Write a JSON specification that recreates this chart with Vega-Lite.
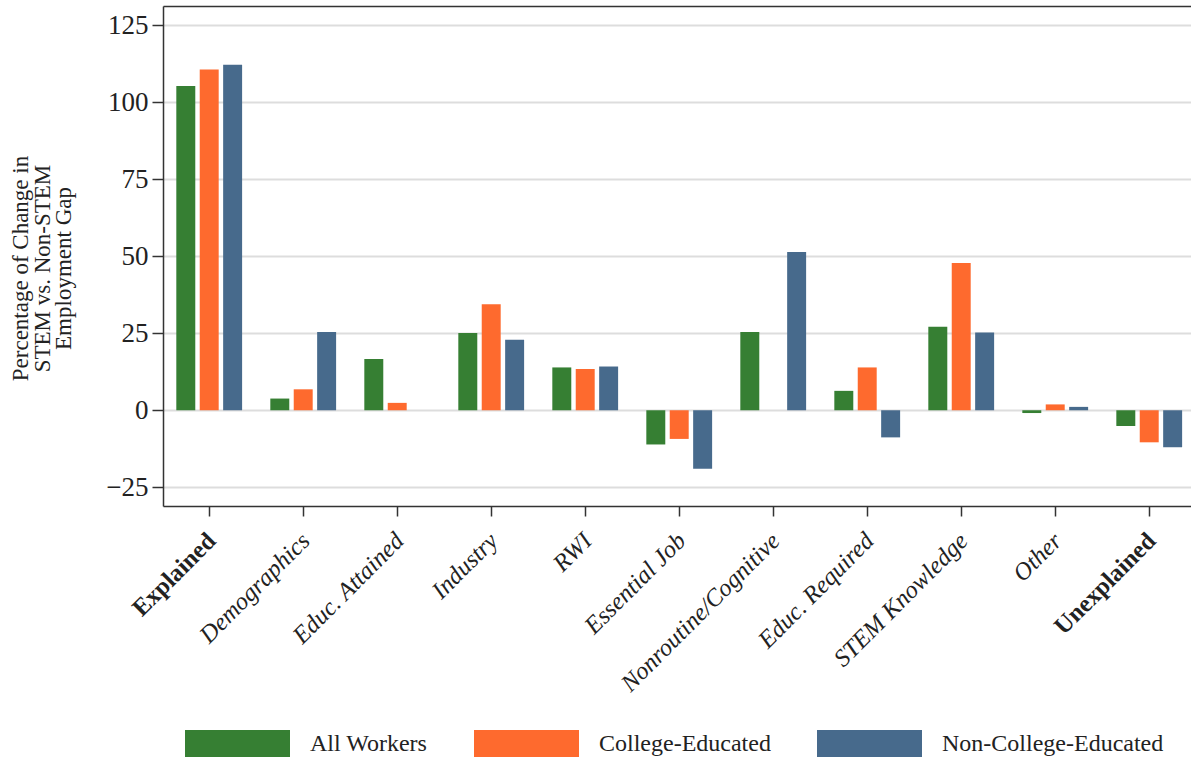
{
  "$schema": "https://vega.github.io/schema/vega-lite/v6.json",
  "width": 1028,
  "height": 500,
  "autosize": {"type": "none"},
  "padding": {"left": 163, "top": 6, "right": 0, "bottom": 256},
  "background": "white",
  "config": {"view": {"stroke": null}, "font": "Liberation Serif"},
  "data": {
    "values": [
      {"category": "Explained", "group": "All Workers", "value": 105.2},
      {"category": "Explained", "group": "College-Educated", "value": 110.6},
      {"category": "Explained", "group": "Non-College-Educated", "value": 112.1},
      {"category": "Demographics", "group": "All Workers", "value": 3.8},
      {"category": "Demographics", "group": "College-Educated", "value": 6.8},
      {"category": "Demographics", "group": "Non-College-Educated", "value": 25.4},
      {"category": "Educ. Attained", "group": "All Workers", "value": 16.6},
      {"category": "Educ. Attained", "group": "College-Educated", "value": 2.4},
      {"category": "Educ. Attained", "group": "Non-College-Educated", "value": 0},
      {"category": "Industry", "group": "All Workers", "value": 25.1},
      {"category": "Industry", "group": "College-Educated", "value": 34.4},
      {"category": "Industry", "group": "Non-College-Educated", "value": 22.9},
      {"category": "RWI", "group": "All Workers", "value": 13.9},
      {"category": "RWI", "group": "College-Educated", "value": 13.4},
      {"category": "RWI", "group": "Non-College-Educated", "value": 14.2},
      {"category": "Essential Job", "group": "All Workers", "value": -11.1},
      {"category": "Essential Job", "group": "College-Educated", "value": -9.3},
      {"category": "Essential Job", "group": "Non-College-Educated", "value": -19.0},
      {"category": "Nonroutine/Cognitive", "group": "All Workers", "value": 25.4},
      {"category": "Nonroutine/Cognitive", "group": "College-Educated", "value": 0},
      {"category": "Nonroutine/Cognitive", "group": "Non-College-Educated", "value": 51.4},
      {"category": "Educ. Required", "group": "All Workers", "value": 6.3},
      {"category": "Educ. Required", "group": "College-Educated", "value": 13.9},
      {"category": "Educ. Required", "group": "Non-College-Educated", "value": -8.8},
      {"category": "STEM Knowledge", "group": "All Workers", "value": 27.1},
      {"category": "STEM Knowledge", "group": "College-Educated", "value": 47.8},
      {"category": "STEM Knowledge", "group": "Non-College-Educated", "value": 25.2},
      {"category": "Other", "group": "All Workers", "value": -0.9},
      {"category": "Other", "group": "College-Educated", "value": 1.9},
      {"category": "Other", "group": "Non-College-Educated", "value": 1.1},
      {"category": "Unexplained", "group": "All Workers", "value": -5.1},
      {"category": "Unexplained", "group": "College-Educated", "value": -10.4},
      {"category": "Unexplained", "group": "Non-College-Educated", "value": -12.0}
    ]
  },
  "layer": [
    {
      "mark": {"type": "bar"},
      "encoding": {
        "x": {
          "field": "category",
          "type": "nominal",
          "sort": ["Explained", "Demographics", "Educ. Attained", "Industry", "RWI", "Essential Job", "Nonroutine/Cognitive", "Educ. Required", "STEM Knowledge", "Other", "Unexplained"],
          "scale": {"paddingInner": 0.3, "paddingOuter": 0.118, "align": 0.6},
          "axis": {
            "title": null,
            "grid": false,
            "labelAngle": -45,
            "labelAlign": "right",
            "labelBaseline": "middle",
            "labelFontSize": 24.5,
            "labelColor": "#222222",
            "labelLimit": 400,
            "labelPadding": 21,
            "labelOffset": 3,
            "labelFontStyle": {"condition": {"test": "datum.value === 'Explained' || datum.value === 'Unexplained'", "value": "normal"}, "value": "italic"},
            "labelFontWeight": {"condition": {"test": "datum.value === 'Explained' || datum.value === 'Unexplained'", "value": "bold"}, "value": "normal"},
            "tickSize": 10,
            "tickColor": "#333333",
            "tickWidth": 1.5,
            "domainColor": "#333333",
            "domainWidth": 1.5
          }
        },
        "xOffset": {
          "field": "group",
          "type": "nominal",
          "sort": ["All Workers", "College-Educated", "Non-College-Educated"],
          "scale": {"paddingInner": 0.19, "paddingOuter": 0}
        },
        "y": {
          "field": "value",
          "type": "quantitative",
          "scale": {"domain": [-31.07, 131.2], "nice": false, "zero": false},
          "axis": {
            "values": [-25, 0, 25, 50, 75, 100, 125],
            "title": ["Percentage of Change in", "STEM vs. Non-STEM", "Employment Gap"],
            "titleFontSize": 23,
            "titleFontWeight": "normal",
            "titleColor": "#222222",
            "titleLineHeight": 21.5,
            "titlePadding": 30,
            "titleY": 262,
            "labelFontSize": 27,
            "labelColor": "#222222",
            "labelPadding": 4,
            "tickSize": 11,
            "tickColor": "#333333",
            "tickWidth": 1.5,
            "domainColor": "#333333",
            "domainWidth": 1.5,
            "grid": true,
            "gridColor": "#dddddd",
            "gridWidth": 2
          }
        },
        "color": {
          "field": "group",
          "type": "nominal",
          "sort": ["All Workers", "College-Educated", "Non-College-Educated"],
          "scale": {"range": ["#367f33", "#fe6a2e", "#476a8c"]},
          "legend": {
            "orient": "none",
            "legendX": 22,
            "legendY": 685,
            "direction": "horizontal",
            "title": null,
            "padding": 0,
            "symbolType": "M-1,-0.257H1V0.257H-1Z",
            "symbolSize": 11025,
            "symbolStrokeWidth": 0,
            "symbolOpacity": 1,
            "labelFontSize": 24,
            "labelColor": "#222222",
            "labelOffset": 20,
            "labelLimit": 400,
            "columnPadding": 46
          }
        }
      }
    },
    {
      "mark": {"type": "rule", "opacity": 0},
      "encoding": {
        "x": {
          "field": "category",
          "type": "nominal",
          "sort": ["Explained", "Demographics", "Educ. Attained", "Industry", "RWI", "Essential Job", "Nonroutine/Cognitive", "Educ. Required", "STEM Knowledge", "Other", "Unexplained"],
          "axis": {
            "orient": "top",
            "title": null,
            "labels": false,
            "ticks": false,
            "grid": false,
            "domainColor": "#333333",
            "domainWidth": 1.5
          }
        }
      }
    }
  ],
  "resolve": {"axis": {"x": "independent"}}
}
